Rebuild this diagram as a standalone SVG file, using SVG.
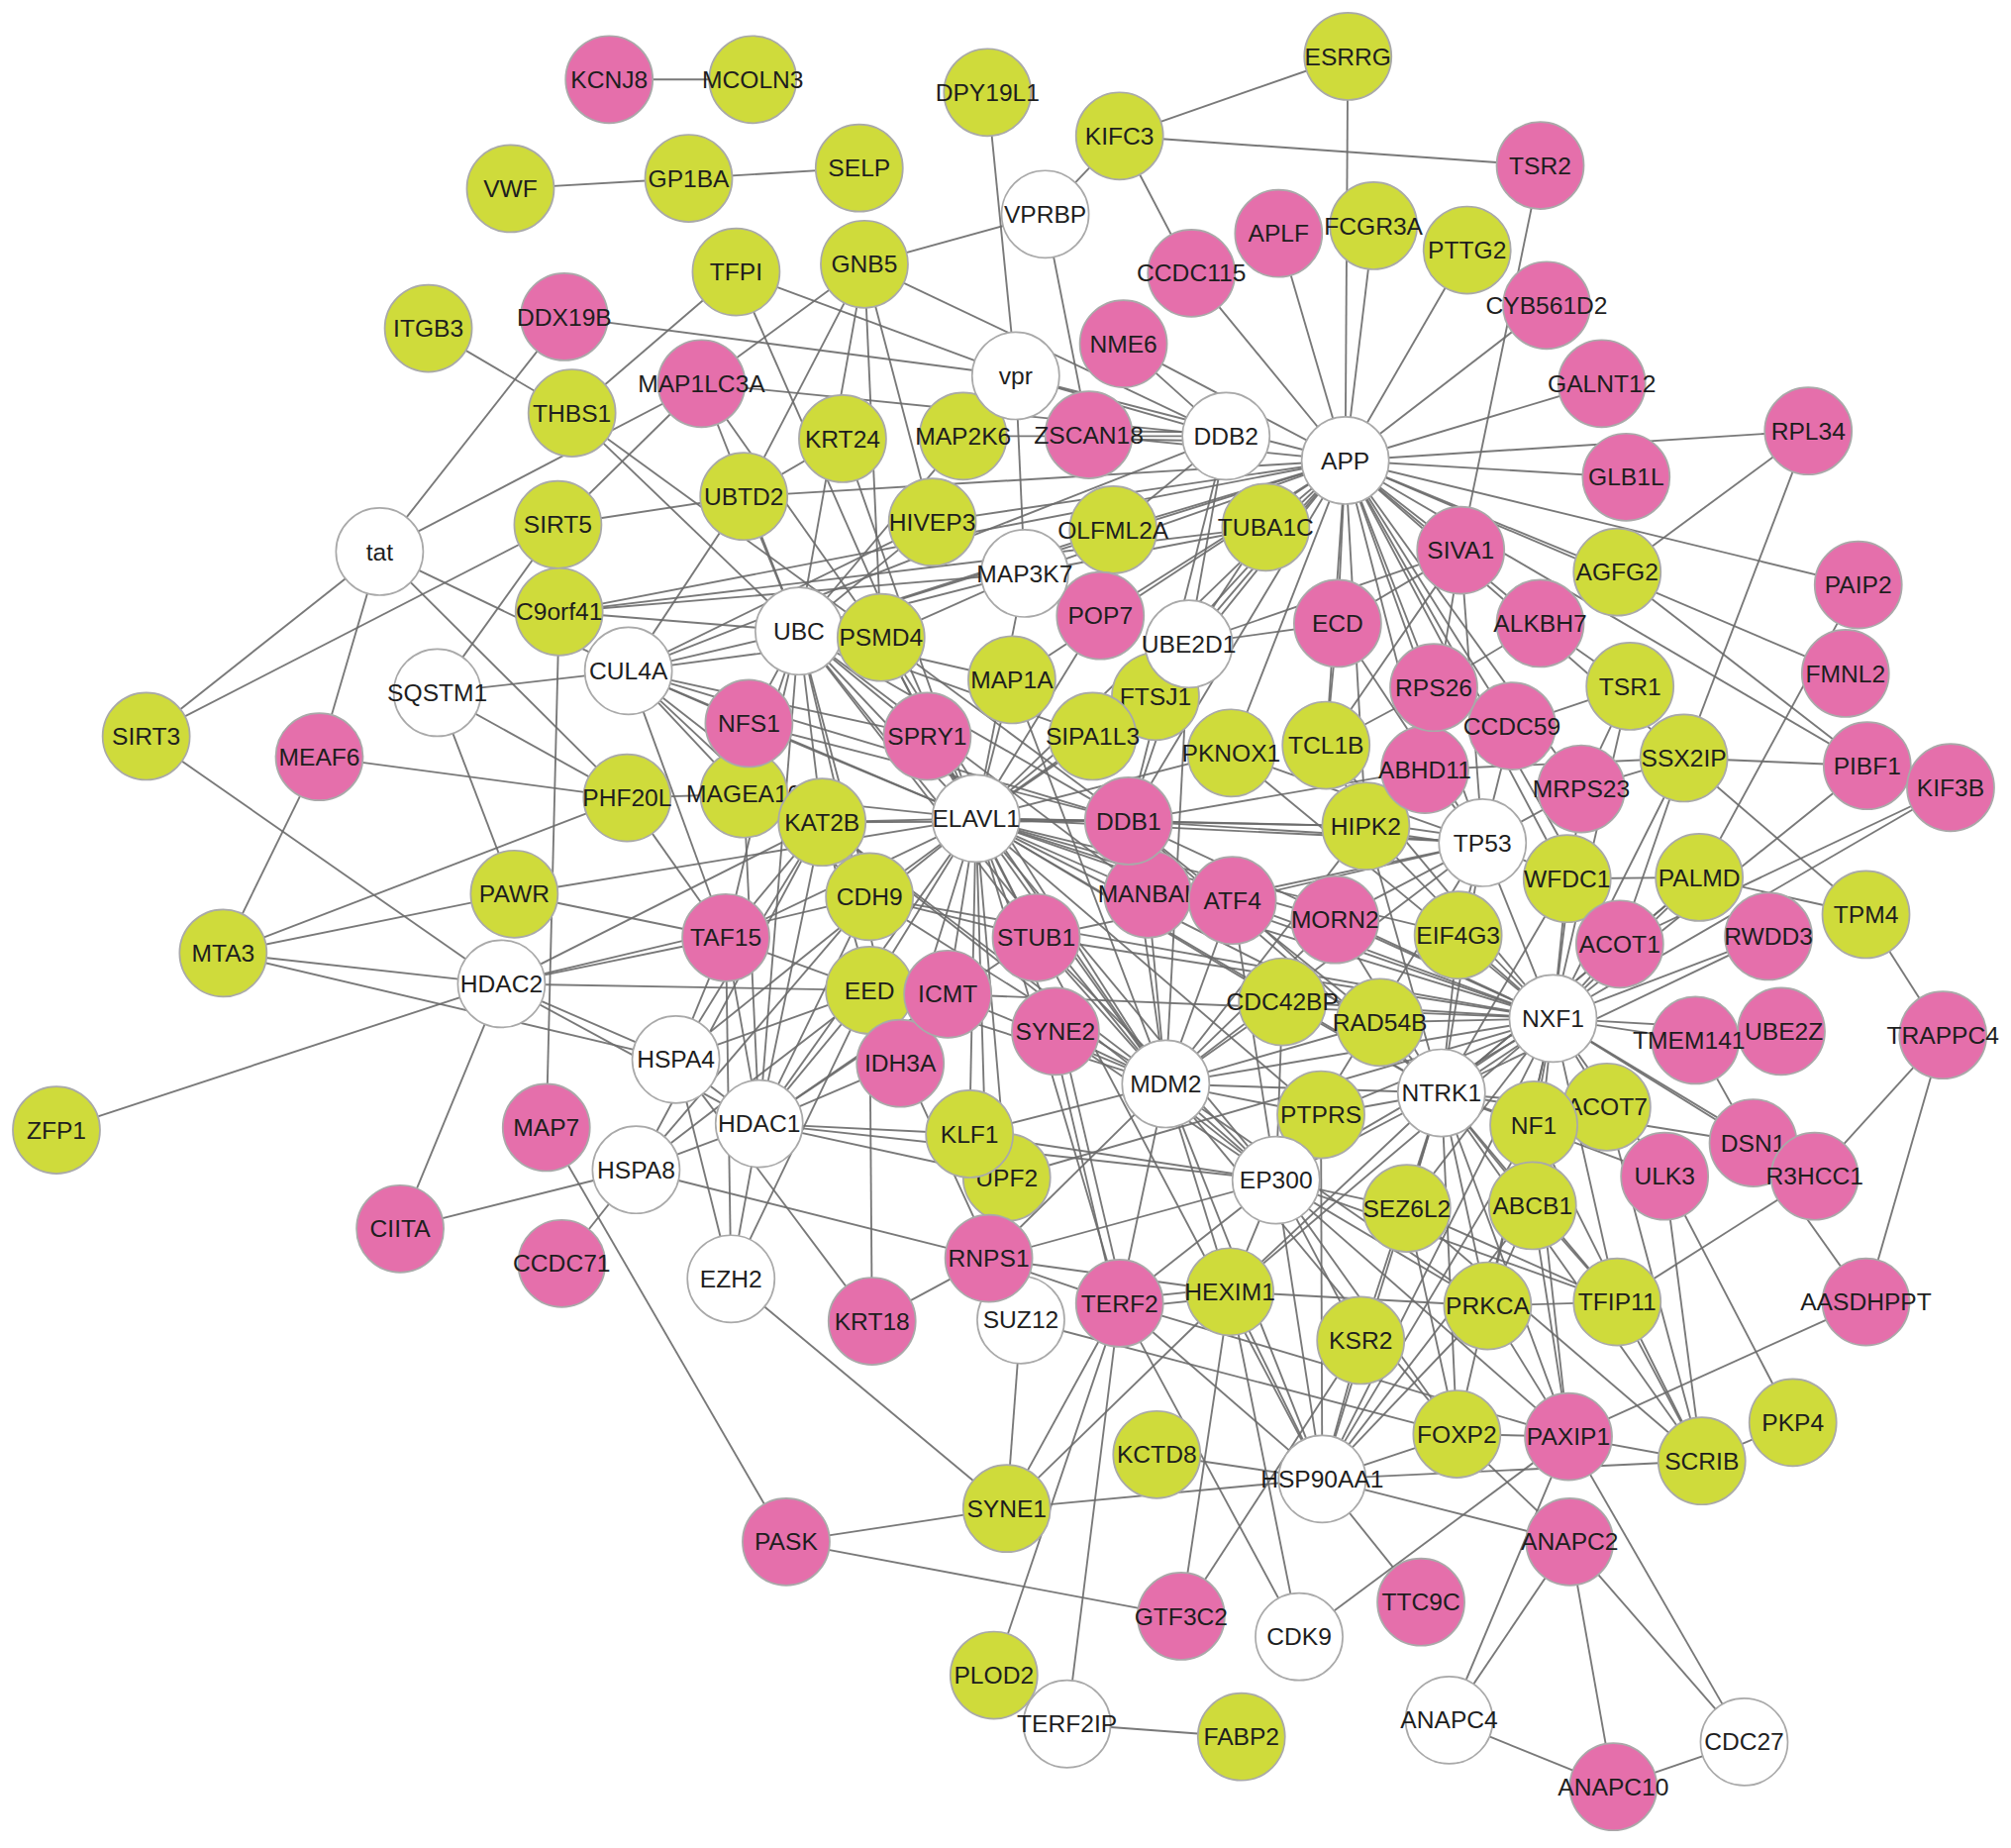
<svg xmlns="http://www.w3.org/2000/svg" width="2031" height="1866" viewBox="0 0 2031 1866">
<style>
.e line{stroke:#6a6a6a;stroke-width:1.45;stroke-opacity:0.9}
circle{stroke:#a9a9a9;stroke-width:1.3}
.g circle{fill:#cfdb3b}
.p circle{fill:#e56fab}
.w circle{fill:#ffffff}
text{font-family:"Liberation Sans",Arial,sans-serif;font-size:19px;fill:#1e1e1e;text-anchor:middle}
</style>
<rect width="2031" height="1866" fill="#ffffff"/>
<g transform="scale(1.2952)">
<g id="connectors" class="e">
<line x1="475" y1="62" x2="587" y2="62"/>
<line x1="398" y1="147" x2="537" y2="139"/>
<line x1="537" y1="139" x2="670" y2="131"/>
<line x1="334" y1="256" x2="446" y2="322"/>
<line x1="440" y1="247" x2="792" y2="293"/>
<line x1="440" y1="247" x2="296" y2="430"/>
<line x1="547" y1="299" x2="296" y2="430"/>
<line x1="446" y1="322" x2="574" y2="212"/>
<line x1="446" y1="322" x2="687" y2="497"/>
<line x1="446" y1="322" x2="623" y2="492"/>
<line x1="435" y1="409" x2="547" y2="299"/>
<line x1="435" y1="409" x2="580" y2="387"/>
<line x1="114" y1="574" x2="296" y2="430"/>
<line x1="114" y1="574" x2="435" y2="409"/>
<line x1="114" y1="574" x2="391" y2="767"/>
<line x1="249" y1="590" x2="296" y2="430"/>
<line x1="174" y1="743" x2="249" y2="590"/>
<line x1="296" y1="430" x2="489" y2="622"/>
<line x1="296" y1="430" x2="490" y2="523"/>
<line x1="341" y1="540" x2="435" y2="409"/>
<line x1="341" y1="540" x2="490" y2="523"/>
<line x1="341" y1="540" x2="401" y2="697"/>
<line x1="341" y1="540" x2="489" y2="622"/>
<line x1="436" y1="477" x2="426" y2="879"/>
<line x1="436" y1="477" x2="799" y2="447"/>
<line x1="436" y1="477" x2="623" y2="492"/>
<line x1="436" y1="477" x2="987" y2="411"/>
<line x1="436" y1="477" x2="1049" y2="359"/>
<line x1="249" y1="590" x2="489" y2="622"/>
<line x1="489" y1="622" x2="174" y2="743"/>
<line x1="174" y1="743" x2="401" y2="697"/>
<line x1="174" y1="743" x2="391" y2="767"/>
<line x1="174" y1="743" x2="527" y2="826"/>
<line x1="391" y1="767" x2="44" y2="881"/>
<line x1="391" y1="767" x2="312" y2="958"/>
<line x1="391" y1="767" x2="527" y2="826"/>
<line x1="391" y1="767" x2="678" y2="772"/>
<line x1="391" y1="767" x2="566" y2="731"/>
<line x1="391" y1="767" x2="678" y2="699"/>
<line x1="401" y1="697" x2="566" y2="731"/>
<line x1="401" y1="697" x2="761" y2="638"/>
<line x1="489" y1="622" x2="566" y2="731"/>
<line x1="489" y1="622" x2="580" y2="619"/>
<line x1="312" y1="958" x2="496" y2="912"/>
<line x1="426" y1="879" x2="613" y2="1202"/>
<line x1="438" y1="985" x2="496" y2="912"/>
<line x1="496" y1="912" x2="592" y2="876"/>
<line x1="496" y1="912" x2="771" y2="981"/>
<line x1="496" y1="912" x2="678" y2="772"/>
<line x1="496" y1="912" x2="678" y2="699"/>
<line x1="496" y1="912" x2="641" y2="641"/>
<line x1="527" y1="826" x2="592" y2="876"/>
<line x1="527" y1="826" x2="641" y2="641"/>
<line x1="527" y1="826" x2="678" y2="772"/>
<line x1="570" y1="997" x2="592" y2="876"/>
<line x1="570" y1="997" x2="678" y2="772"/>
<line x1="570" y1="997" x2="566" y2="731"/>
<line x1="570" y1="997" x2="527" y2="826"/>
<line x1="570" y1="997" x2="785" y2="1176"/>
<line x1="680" y1="1030" x2="771" y2="981"/>
<line x1="680" y1="1030" x2="678" y2="772"/>
<line x1="680" y1="1030" x2="527" y2="826"/>
<line x1="771" y1="981" x2="873" y2="1016"/>
<line x1="771" y1="981" x2="909" y2="845"/>
<line x1="771" y1="981" x2="995" y2="920"/>
<line x1="771" y1="981" x2="761" y2="638"/>
<line x1="771" y1="981" x2="959" y2="1007"/>
<line x1="796" y1="1029" x2="785" y2="1176"/>
<line x1="796" y1="1029" x2="1136" y2="1118"/>
<line x1="796" y1="1029" x2="678" y2="772"/>
<line x1="592" y1="876" x2="756" y2="884"/>
<line x1="873" y1="1013" x2="959" y2="1004"/>
<line x1="873" y1="1020" x2="959" y2="1011"/>
<line x1="873" y1="1016" x2="785" y2="1176"/>
<line x1="873" y1="1016" x2="775" y2="1306"/>
<line x1="873" y1="1016" x2="832" y2="1344"/>
<line x1="873" y1="1016" x2="1031" y2="1153"/>
<line x1="873" y1="1016" x2="1013" y2="1276"/>
<line x1="873" y1="1016" x2="1223" y2="1120"/>
<line x1="959" y1="1007" x2="785" y2="1176"/>
<line x1="959" y1="1007" x2="921" y2="1260"/>
<line x1="959" y1="1007" x2="1013" y2="1276"/>
<line x1="959" y1="1007" x2="1031" y2="1153"/>
<line x1="959" y1="1007" x2="1160" y2="1018"/>
<line x1="902" y1="1134" x2="1031" y2="1153"/>
<line x1="613" y1="1202" x2="785" y2="1176"/>
<line x1="613" y1="1202" x2="921" y2="1260"/>
<line x1="785" y1="1176" x2="1031" y2="1153"/>
<line x1="832" y1="1344" x2="968" y2="1354"/>
<line x1="921" y1="1260" x2="1061" y2="1045"/>
<line x1="1013" y1="1276" x2="1223" y2="1120"/>
<line x1="1031" y1="1153" x2="1108" y2="1249"/>
<line x1="1031" y1="1153" x2="1224" y2="1202"/>
<line x1="1031" y1="1153" x2="1327" y2="1139"/>
<line x1="1031" y1="1153" x2="1136" y2="1118"/>
<line x1="1031" y1="1153" x2="1061" y2="1045"/>
<line x1="1031" y1="1153" x2="1160" y2="1018"/>
<line x1="1031" y1="1153" x2="1124" y2="852"/>
<line x1="1031" y1="1153" x2="1196" y2="877"/>
<line x1="1031" y1="1153" x2="995" y2="920"/>
<line x1="1031" y1="1153" x2="1195" y2="940"/>
<line x1="1031" y1="1153" x2="1211" y2="794"/>
<line x1="1136" y1="1118" x2="1223" y2="1120"/>
<line x1="1136" y1="1118" x2="1224" y2="1202"/>
<line x1="1223" y1="1120" x2="1327" y2="1139"/>
<line x1="1223" y1="1120" x2="1455" y2="1015"/>
<line x1="1223" y1="1120" x2="1360" y2="1358"/>
<line x1="1224" y1="1202" x2="1130" y2="1341"/>
<line x1="1223" y1="1120" x2="1130" y2="1341"/>
<line x1="1224" y1="1202" x2="1258" y2="1393"/>
<line x1="1224" y1="1202" x2="1360" y2="1358"/>
<line x1="1130" y1="1341" x2="1258" y2="1393"/>
<line x1="1258" y1="1393" x2="1360" y2="1358"/>
<line x1="1327" y1="1139" x2="1398" y2="1109"/>
<line x1="1327" y1="1139" x2="1261" y2="1015"/>
<line x1="1298" y1="917" x2="1398" y2="1109"/>
<line x1="1298" y1="917" x2="1327" y2="1139"/>
<line x1="1261" y1="1015" x2="1160" y2="1018"/>
<line x1="1455" y1="1015" x2="1515" y2="807"/>
<line x1="1455" y1="1015" x2="1367" y2="891"/>
<line x1="1261" y1="1015" x2="1415" y2="917"/>
<line x1="1515" y1="807" x2="1415" y2="917"/>
<line x1="1515" y1="807" x2="1455" y2="713"/>
<line x1="1313" y1="591" x2="1455" y2="713"/>
<line x1="1521" y1="614" x2="1263" y2="736"/>
<line x1="1521" y1="614" x2="1211" y2="794"/>
<line x1="1456" y1="597" x2="1313" y2="591"/>
<line x1="1456" y1="597" x2="1049" y2="359"/>
<line x1="1456" y1="597" x2="1211" y2="794"/>
<line x1="1439" y1="525" x2="1049" y2="359"/>
<line x1="1410" y1="336" x2="1313" y2="591"/>
<line x1="1410" y1="336" x2="1261" y2="446"/>
<line x1="1410" y1="336" x2="1049" y2="359"/>
<line x1="1449" y1="456" x2="1049" y2="359"/>
<line x1="1449" y1="456" x2="1325" y2="684"/>
<line x1="1261" y1="446" x2="1049" y2="359"/>
<line x1="1261" y1="446" x2="1456" y2="597"/>
<line x1="1051" y1="44" x2="1049" y2="359"/>
<line x1="1051" y1="44" x2="873" y2="106"/>
<line x1="873" y1="106" x2="1201" y2="129"/>
<line x1="873" y1="106" x2="815" y2="167"/>
<line x1="873" y1="106" x2="929" y2="213"/>
<line x1="929" y1="213" x2="1049" y2="359"/>
<line x1="1201" y1="129" x2="1139" y2="429"/>
<line x1="1206" y1="238" x2="1049" y2="359"/>
<line x1="1249" y1="299" x2="1049" y2="359"/>
<line x1="1268" y1="372" x2="1049" y2="359"/>
<line x1="1144" y1="195" x2="1049" y2="359"/>
<line x1="1071" y1="176" x2="1049" y2="359"/>
<line x1="997" y1="182" x2="1049" y2="359"/>
<line x1="770" y1="72" x2="792" y2="293"/>
<line x1="815" y1="167" x2="674" y2="206"/>
<line x1="815" y1="167" x2="849" y2="339"/>
<line x1="574" y1="212" x2="792" y2="293"/>
<line x1="574" y1="212" x2="761" y2="638"/>
<line x1="674" y1="206" x2="547" y2="299"/>
<line x1="674" y1="206" x2="580" y2="387"/>
<line x1="674" y1="206" x2="687" y2="497"/>
<line x1="674" y1="206" x2="727" y2="407"/>
<line x1="674" y1="206" x2="956" y2="340"/>
<line x1="674" y1="206" x2="623" y2="492"/>
<line x1="547" y1="299" x2="956" y2="340"/>
<line x1="547" y1="299" x2="623" y2="492"/>
<line x1="547" y1="299" x2="687" y2="497"/>
<line x1="876" y1="268" x2="956" y2="340"/>
<line x1="876" y1="268" x2="1049" y2="359"/>
<line x1="792" y1="293" x2="956" y2="340"/>
<line x1="792" y1="293" x2="1049" y2="359"/>
<line x1="792" y1="293" x2="799" y2="447"/>
<line x1="849" y1="336" x2="956" y2="337"/>
<line x1="849" y1="342" x2="956" y2="344"/>
<line x1="849" y1="339" x2="1049" y2="359"/>
<line x1="751" y1="340" x2="956" y2="340"/>
<line x1="751" y1="340" x2="623" y2="492"/>
<line x1="657" y1="342" x2="580" y2="387"/>
<line x1="657" y1="342" x2="761" y2="638"/>
<line x1="580" y1="387" x2="1049" y2="359"/>
<line x1="580" y1="387" x2="623" y2="492"/>
<line x1="580" y1="387" x2="490" y2="523"/>
<line x1="727" y1="407" x2="1049" y2="359"/>
<line x1="727" y1="407" x2="623" y2="492"/>
<line x1="727" y1="407" x2="490" y2="523"/>
<line x1="868" y1="413" x2="1049" y2="359"/>
<line x1="868" y1="413" x2="956" y2="340"/>
<line x1="868" y1="413" x2="623" y2="492"/>
<line x1="987" y1="411" x2="1049" y2="359"/>
<line x1="987" y1="411" x2="927" y2="502"/>
<line x1="987" y1="411" x2="799" y2="447"/>
<line x1="799" y1="447" x2="1049" y2="359"/>
<line x1="799" y1="447" x2="623" y2="492"/>
<line x1="799" y1="447" x2="761" y2="638"/>
<line x1="799" y1="447" x2="687" y2="497"/>
<line x1="858" y1="480" x2="1049" y2="359"/>
<line x1="858" y1="480" x2="761" y2="638"/>
<line x1="927" y1="502" x2="1049" y2="359"/>
<line x1="927" y1="502" x2="956" y2="340"/>
<line x1="927" y1="502" x2="761" y2="638"/>
<line x1="927" y1="502" x2="880" y2="640"/>
<line x1="927" y1="502" x2="909" y2="845"/>
<line x1="1043" y1="486" x2="1049" y2="359"/>
<line x1="1043" y1="486" x2="1034" y2="581"/>
<line x1="1043" y1="486" x2="1139" y2="429"/>
<line x1="1043" y1="486" x2="1156" y2="657"/>
<line x1="1043" y1="486" x2="927" y2="502"/>
<line x1="1139" y1="429" x2="1049" y2="359"/>
<line x1="1139" y1="429" x2="1034" y2="581"/>
<line x1="1139" y1="429" x2="1156" y2="657"/>
<line x1="1139" y1="429" x2="1111" y2="600"/>
<line x1="1139" y1="429" x2="927" y2="502"/>
<line x1="1201" y1="486" x2="1049" y2="359"/>
<line x1="1201" y1="486" x2="1118" y2="536"/>
<line x1="1201" y1="486" x2="1271" y2="535"/>
<line x1="1118" y1="536" x2="1049" y2="359"/>
<line x1="1118" y1="536" x2="1034" y2="581"/>
<line x1="1179" y1="566" x2="1049" y2="359"/>
<line x1="1179" y1="566" x2="1156" y2="657"/>
<line x1="1179" y1="566" x2="1271" y2="535"/>
<line x1="1111" y1="600" x2="1049" y2="359"/>
<line x1="1111" y1="600" x2="1156" y2="657"/>
<line x1="1111" y1="600" x2="1065" y2="644"/>
<line x1="1111" y1="600" x2="1313" y2="591"/>
<line x1="1111" y1="600" x2="880" y2="640"/>
<line x1="1271" y1="535" x2="1233" y2="615"/>
<line x1="1271" y1="535" x2="1211" y2="794"/>
<line x1="1233" y1="615" x2="1049" y2="359"/>
<line x1="1233" y1="615" x2="1156" y2="657"/>
<line x1="1233" y1="615" x2="1313" y2="591"/>
<line x1="1233" y1="615" x2="1211" y2="794"/>
<line x1="1313" y1="591" x2="1049" y2="359"/>
<line x1="1313" y1="591" x2="1211" y2="794"/>
<line x1="1313" y1="591" x2="1263" y2="736"/>
<line x1="1065" y1="641" x2="1156" y2="654"/>
<line x1="1065" y1="647" x2="1156" y2="660"/>
<line x1="1065" y1="644" x2="1049" y2="359"/>
<line x1="1065" y1="644" x2="880" y2="640"/>
<line x1="1065" y1="644" x2="1034" y2="581"/>
<line x1="1065" y1="644" x2="1211" y2="794"/>
<line x1="1065" y1="644" x2="761" y2="638"/>
<line x1="1065" y1="644" x2="909" y2="845"/>
<line x1="1065" y1="644" x2="1124" y2="852"/>
<line x1="1156" y1="657" x2="1049" y2="359"/>
<line x1="1156" y1="657" x2="1222" y2="685"/>
<line x1="1156" y1="657" x2="1211" y2="794"/>
<line x1="1156" y1="657" x2="1124" y2="852"/>
<line x1="1156" y1="657" x2="1137" y2="729"/>
<line x1="1156" y1="657" x2="880" y2="640"/>
<line x1="1156" y1="657" x2="961" y2="702"/>
<line x1="1156" y1="657" x2="909" y2="845"/>
<line x1="1156" y1="657" x2="995" y2="920"/>
<line x1="1156" y1="657" x2="761" y2="638"/>
<line x1="1156" y1="657" x2="1041" y2="717"/>
<line x1="1222" y1="685" x2="1325" y2="684"/>
<line x1="1222" y1="685" x2="1211" y2="794"/>
<line x1="1222" y1="685" x2="1124" y2="852"/>
<line x1="1222" y1="685" x2="1049" y2="359"/>
<line x1="1325" y1="684" x2="1211" y2="794"/>
<line x1="1325" y1="684" x2="1263" y2="736"/>
<line x1="1325" y1="684" x2="1455" y2="713"/>
<line x1="1325" y1="684" x2="1124" y2="852"/>
<line x1="1263" y1="736" x2="1211" y2="794"/>
<line x1="1263" y1="736" x2="1049" y2="359"/>
<line x1="1263" y1="736" x2="1124" y2="852"/>
<line x1="1379" y1="730" x2="1211" y2="794"/>
<line x1="1379" y1="730" x2="1124" y2="852"/>
<line x1="1322" y1="811" x2="1211" y2="794"/>
<line x1="1322" y1="811" x2="1367" y2="891"/>
<line x1="1389" y1="804" x2="1211" y2="794"/>
<line x1="1367" y1="891" x2="1211" y2="794"/>
<line x1="1367" y1="891" x2="1124" y2="852"/>
<line x1="1415" y1="917" x2="1211" y2="794"/>
<line x1="1298" y1="917" x2="1211" y2="794"/>
<line x1="1298" y1="917" x2="1124" y2="852"/>
<line x1="1253" y1="863" x2="1211" y2="794"/>
<line x1="1253" y1="863" x2="1124" y2="852"/>
<line x1="1253" y1="863" x2="1327" y2="1139"/>
<line x1="1196" y1="877" x2="1211" y2="794"/>
<line x1="1196" y1="877" x2="1124" y2="852"/>
<line x1="1196" y1="877" x2="1223" y2="1120"/>
<line x1="1196" y1="877" x2="1327" y2="1139"/>
<line x1="1195" y1="940" x2="1124" y2="852"/>
<line x1="1195" y1="940" x2="1211" y2="794"/>
<line x1="1195" y1="940" x2="1223" y2="1120"/>
<line x1="1195" y1="940" x2="1261" y2="1015"/>
<line x1="1195" y1="940" x2="1160" y2="1018"/>
<line x1="1097" y1="942" x2="1124" y2="852"/>
<line x1="1097" y1="942" x2="1211" y2="794"/>
<line x1="1097" y1="942" x2="995" y2="920"/>
<line x1="1097" y1="942" x2="1327" y2="1139"/>
<line x1="1097" y1="942" x2="1261" y2="1015"/>
<line x1="1097" y1="942" x2="1136" y2="1118"/>
<line x1="1160" y1="1018" x2="1124" y2="852"/>
<line x1="1160" y1="1018" x2="1211" y2="794"/>
<line x1="1160" y1="1018" x2="995" y2="920"/>
<line x1="1160" y1="1018" x2="1223" y2="1120"/>
<line x1="1160" y1="1018" x2="909" y2="845"/>
<line x1="1261" y1="1015" x2="1124" y2="852"/>
<line x1="1261" y1="1015" x2="1211" y2="794"/>
<line x1="1261" y1="1015" x2="995" y2="920"/>
<line x1="1061" y1="1045" x2="1124" y2="852"/>
<line x1="1061" y1="1045" x2="995" y2="920"/>
<line x1="1136" y1="1118" x2="1124" y2="852"/>
<line x1="1136" y1="1118" x2="1211" y2="794"/>
<line x1="1136" y1="1118" x2="995" y2="920"/>
<line x1="1136" y1="1118" x2="909" y2="845"/>
<line x1="1030" y1="869" x2="1124" y2="852"/>
<line x1="1030" y1="869" x2="995" y2="920"/>
<line x1="1030" y1="869" x2="909" y2="845"/>
<line x1="1030" y1="869" x2="1211" y2="794"/>
<line x1="1030" y1="869" x2="761" y2="638"/>
<line x1="1030" y1="869" x2="1031" y2="1153"/>
<line x1="1076" y1="797" x2="1211" y2="794"/>
<line x1="1076" y1="797" x2="1124" y2="852"/>
<line x1="1076" y1="797" x2="909" y2="845"/>
<line x1="1076" y1="797" x2="761" y2="638"/>
<line x1="1076" y1="797" x2="880" y2="640"/>
<line x1="1000" y1="781" x2="1211" y2="794"/>
<line x1="1000" y1="781" x2="909" y2="845"/>
<line x1="1000" y1="781" x2="761" y2="638"/>
<line x1="1000" y1="781" x2="1124" y2="852"/>
<line x1="1000" y1="781" x2="995" y2="920"/>
<line x1="1137" y1="729" x2="1211" y2="794"/>
<line x1="1137" y1="729" x2="1124" y2="852"/>
<line x1="1137" y1="729" x2="761" y2="638"/>
<line x1="1041" y1="717" x2="1211" y2="794"/>
<line x1="1041" y1="717" x2="1124" y2="852"/>
<line x1="1041" y1="717" x2="761" y2="638"/>
<line x1="1041" y1="717" x2="909" y2="845"/>
<line x1="961" y1="702" x2="1211" y2="794"/>
<line x1="961" y1="702" x2="909" y2="845"/>
<line x1="961" y1="702" x2="761" y2="638"/>
<line x1="961" y1="702" x2="995" y2="920"/>
<line x1="961" y1="702" x2="1124" y2="852"/>
<line x1="895" y1="697" x2="761" y2="638"/>
<line x1="895" y1="697" x2="909" y2="845"/>
<line x1="895" y1="697" x2="623" y2="492"/>
<line x1="895" y1="697" x2="1211" y2="794"/>
<line x1="880" y1="640" x2="761" y2="638"/>
<line x1="880" y1="640" x2="623" y2="492"/>
<line x1="880" y1="640" x2="490" y2="523"/>
<line x1="880" y1="640" x2="956" y2="340"/>
<line x1="880" y1="640" x2="1211" y2="794"/>
<line x1="880" y1="640" x2="909" y2="845"/>
<line x1="880" y1="640" x2="1049" y2="359"/>
<line x1="880" y1="640" x2="1124" y2="852"/>
<line x1="960" y1="587" x2="1049" y2="359"/>
<line x1="960" y1="587" x2="761" y2="638"/>
<line x1="960" y1="587" x2="1211" y2="794"/>
<line x1="960" y1="587" x2="1156" y2="657"/>
<line x1="1034" y1="581" x2="1049" y2="359"/>
<line x1="1034" y1="581" x2="1211" y2="794"/>
<line x1="901" y1="543" x2="1049" y2="359"/>
<line x1="901" y1="543" x2="761" y2="638"/>
<line x1="852" y1="574" x2="1049" y2="359"/>
<line x1="852" y1="574" x2="761" y2="638"/>
<line x1="852" y1="574" x2="623" y2="492"/>
<line x1="789" y1="530" x2="761" y2="638"/>
<line x1="789" y1="530" x2="623" y2="492"/>
<line x1="789" y1="530" x2="1049" y2="359"/>
<line x1="789" y1="530" x2="909" y2="845"/>
<line x1="723" y1="574" x2="623" y2="492"/>
<line x1="723" y1="574" x2="761" y2="638"/>
<line x1="723" y1="574" x2="490" y2="523"/>
<line x1="723" y1="574" x2="909" y2="845"/>
<line x1="687" y1="497" x2="623" y2="492"/>
<line x1="687" y1="497" x2="761" y2="638"/>
<line x1="687" y1="497" x2="808" y2="731"/>
<line x1="687" y1="497" x2="909" y2="845"/>
<line x1="687" y1="497" x2="490" y2="523"/>
<line x1="687" y1="497" x2="880" y2="640"/>
<line x1="584" y1="564" x2="623" y2="492"/>
<line x1="584" y1="564" x2="490" y2="523"/>
<line x1="584" y1="564" x2="761" y2="638"/>
<line x1="584" y1="564" x2="880" y2="640"/>
<line x1="580" y1="619" x2="623" y2="492"/>
<line x1="580" y1="619" x2="761" y2="638"/>
<line x1="580" y1="619" x2="592" y2="876"/>
<line x1="580" y1="619" x2="490" y2="523"/>
<line x1="641" y1="641" x2="761" y2="638"/>
<line x1="641" y1="641" x2="623" y2="492"/>
<line x1="641" y1="641" x2="592" y2="876"/>
<line x1="641" y1="641" x2="678" y2="772"/>
<line x1="641" y1="641" x2="566" y2="731"/>
<line x1="641" y1="641" x2="490" y2="523"/>
<line x1="641" y1="641" x2="995" y2="920"/>
<line x1="641" y1="641" x2="909" y2="845"/>
<line x1="641" y1="641" x2="391" y2="767"/>
<line x1="641" y1="641" x2="880" y2="640"/>
<line x1="678" y1="699" x2="761" y2="638"/>
<line x1="678" y1="699" x2="623" y2="492"/>
<line x1="678" y1="699" x2="592" y2="876"/>
<line x1="678" y1="699" x2="808" y2="731"/>
<line x1="678" y1="699" x2="909" y2="845"/>
<line x1="678" y1="699" x2="490" y2="523"/>
<line x1="678" y1="699" x2="1211" y2="794"/>
<line x1="566" y1="731" x2="761" y2="638"/>
<line x1="566" y1="731" x2="623" y2="492"/>
<line x1="566" y1="731" x2="592" y2="876"/>
<line x1="566" y1="731" x2="490" y2="523"/>
<line x1="566" y1="731" x2="527" y2="826"/>
<line x1="566" y1="731" x2="678" y2="772"/>
<line x1="808" y1="731" x2="761" y2="638"/>
<line x1="808" y1="731" x2="623" y2="492"/>
<line x1="808" y1="731" x2="909" y2="845"/>
<line x1="808" y1="731" x2="1211" y2="794"/>
<line x1="808" y1="731" x2="995" y2="920"/>
<line x1="808" y1="731" x2="592" y2="876"/>
<line x1="808" y1="731" x2="1156" y2="657"/>
<line x1="808" y1="731" x2="1031" y2="1153"/>
<line x1="678" y1="772" x2="592" y2="876"/>
<line x1="678" y1="772" x2="761" y2="638"/>
<line x1="678" y1="772" x2="909" y2="845"/>
<line x1="739" y1="775" x2="761" y2="638"/>
<line x1="739" y1="775" x2="592" y2="876"/>
<line x1="739" y1="775" x2="1211" y2="794"/>
<line x1="739" y1="775" x2="909" y2="845"/>
<line x1="823" y1="804" x2="761" y2="638"/>
<line x1="823" y1="804" x2="909" y2="845"/>
<line x1="820" y1="804" x2="870" y2="1016"/>
<line x1="827" y1="804" x2="877" y2="1016"/>
<line x1="823" y1="804" x2="995" y2="920"/>
<line x1="702" y1="829" x2="761" y2="638"/>
<line x1="702" y1="829" x2="592" y2="876"/>
<line x1="702" y1="829" x2="623" y2="492"/>
<line x1="756" y1="884" x2="761" y2="638"/>
<line x1="756" y1="884" x2="995" y2="920"/>
<line x1="756" y1="884" x2="909" y2="845"/>
<line x1="785" y1="918" x2="761" y2="638"/>
<line x1="785" y1="918" x2="592" y2="876"/>
<line x1="785" y1="918" x2="771" y2="981"/>
<line x1="785" y1="918" x2="1211" y2="794"/>
<line x1="909" y1="845" x2="995" y2="920"/>
<line x1="909" y1="845" x2="1124" y2="852"/>
<line x1="909" y1="845" x2="1211" y2="794"/>
<line x1="909" y1="845" x2="761" y2="638"/>
<line x1="909" y1="845" x2="1031" y2="1153"/>
<line x1="909" y1="845" x2="873" y2="1016"/>
<line x1="909" y1="845" x2="959" y2="1007"/>
<line x1="995" y1="920" x2="1124" y2="852"/>
<line x1="995" y1="920" x2="1211" y2="794"/>
<line x1="995" y1="920" x2="959" y2="1007"/>
<line x1="995" y1="920" x2="873" y2="1016"/>
<line x1="995" y1="920" x2="761" y2="638"/>
<line x1="995" y1="920" x2="592" y2="876"/>
<line x1="1124" y1="849" x2="1211" y2="791"/>
<line x1="1124" y1="855" x2="1211" y2="797"/>
<line x1="592" y1="876" x2="761" y2="638"/>
<line x1="592" y1="876" x2="391" y2="767"/>
<line x1="592" y1="876" x2="623" y2="492"/>
<line x1="490" y1="523" x2="623" y2="492"/>
<line x1="490" y1="523" x2="761" y2="638"/>
<line x1="490" y1="523" x2="956" y2="340"/>
<line x1="623" y1="492" x2="761" y2="638"/>
<line x1="623" y1="492" x2="909" y2="845"/>
<line x1="623" y1="492" x2="1049" y2="359"/>
<line x1="761" y1="638" x2="1211" y2="794"/>
<line x1="761" y1="638" x2="1124" y2="852"/>
<line x1="761" y1="638" x2="1049" y2="359"/>
<line x1="959" y1="1007" x2="1124" y2="852"/>
<line x1="959" y1="1007" x2="1211" y2="794"/>
<line x1="1124" y1="852" x2="1327" y2="1139"/>
<line x1="1124" y1="852" x2="1223" y2="1120"/>
<line x1="995" y1="920" x2="1223" y2="1120"/>
<line x1="761" y1="638" x2="873" y2="1016"/>
<line x1="761" y1="638" x2="527" y2="826"/>
</g>
<g id="nodes">
<g id="node-KCNJ8" class="p"><circle cx="475" cy="62" r="34"/><text x="475" y="62" dy="0.35em">KCNJ8</text></g>
<g id="node-MCOLN3" class="g"><circle cx="587" cy="62" r="34"/><text x="587" y="62" dy="0.35em">MCOLN3</text></g>
<g id="node-DPY19L1" class="g"><circle cx="770" cy="72" r="34"/><text x="770" y="72" dy="0.35em">DPY19L1</text></g>
<g id="node-ESRRG" class="g"><circle cx="1051" cy="44" r="34"/><text x="1051" y="44" dy="0.35em">ESRRG</text></g>
<g id="node-KIFC3" class="g"><circle cx="873" cy="106" r="34"/><text x="873" y="106" dy="0.35em">KIFC3</text></g>
<g id="node-TSR2" class="p"><circle cx="1201" cy="129" r="34"/><text x="1201" y="129" dy="0.35em">TSR2</text></g>
<g id="node-VWF" class="g"><circle cx="398" cy="147" r="34"/><text x="398" y="147" dy="0.35em">VWF</text></g>
<g id="node-GP1BA" class="g"><circle cx="537" cy="139" r="34"/><text x="537" y="139" dy="0.35em">GP1BA</text></g>
<g id="node-SELP" class="g"><circle cx="670" cy="131" r="34"/><text x="670" y="131" dy="0.35em">SELP</text></g>
<g id="node-VPRBP" class="w"><circle cx="815" cy="167" r="34"/><text x="815" y="167" dy="0.35em">VPRBP</text></g>
<g id="node-APLF" class="p"><circle cx="997" cy="182" r="34"/><text x="997" y="182" dy="0.35em">APLF</text></g>
<g id="node-FCGR3A" class="g"><circle cx="1071" cy="176" r="34"/><text x="1071" y="176" dy="0.35em">FCGR3A</text></g>
<g id="node-PTTG2" class="g"><circle cx="1144" cy="195" r="34"/><text x="1144" y="195" dy="0.35em">PTTG2</text></g>
<g id="node-CCDC115" class="p"><circle cx="929" cy="213" r="34"/><text x="929" y="213" dy="0.35em">CCDC115</text></g>
<g id="node-CYB561D2" class="p"><circle cx="1206" cy="238" r="34"/><text x="1206" y="238" dy="0.35em">CYB561D2</text></g>
<g id="node-TFPI" class="g"><circle cx="574" cy="212" r="34"/><text x="574" y="212" dy="0.35em">TFPI</text></g>
<g id="node-GNB5" class="g"><circle cx="674" cy="206" r="34"/><text x="674" y="206" dy="0.35em">GNB5</text></g>
<g id="node-ITGB3" class="g"><circle cx="334" cy="256" r="34"/><text x="334" y="256" dy="0.35em">ITGB3</text></g>
<g id="node-DDX19B" class="p"><circle cx="440" cy="247" r="34"/><text x="440" y="247" dy="0.35em">DDX19B</text></g>
<g id="node-NME6" class="p"><circle cx="876" cy="268" r="34"/><text x="876" y="268" dy="0.35em">NME6</text></g>
<g id="node-GALNT12" class="p"><circle cx="1249" cy="299" r="34"/><text x="1249" y="299" dy="0.35em">GALNT12</text></g>
<g id="node-MAP1LC3A" class="p"><circle cx="547" cy="299" r="34"/><text x="547" y="299" dy="0.35em">MAP1LC3A</text></g>
<g id="node-THBS1" class="g"><circle cx="446" cy="322" r="34"/><text x="446" y="322" dy="0.35em">THBS1</text></g>
<g id="node-KRT24" class="g"><circle cx="657" cy="342" r="34"/><text x="657" y="342" dy="0.35em">KRT24</text></g>
<g id="node-MAP2K6" class="g"><circle cx="751" cy="340" r="34"/><text x="751" y="340" dy="0.35em">MAP2K6</text></g>
<g id="node-vpr" class="w"><circle cx="792" cy="293" r="34"/><text x="792" y="293" dy="0.35em">vpr</text></g>
<g id="node-ZSCAN18" class="p"><circle cx="849" cy="339" r="34"/><text x="849" y="339" dy="0.35em">ZSCAN18</text></g>
<g id="node-DDB2" class="w"><circle cx="956" cy="340" r="34"/><text x="956" y="340" dy="0.35em">DDB2</text></g>
<g id="node-APP" class="w"><circle cx="1049" cy="359" r="34"/><text x="1049" y="359" dy="0.35em">APP</text></g>
<g id="node-RPL34" class="p"><circle cx="1410" cy="336" r="34"/><text x="1410" y="336" dy="0.35em">RPL34</text></g>
<g id="node-GLB1L" class="p"><circle cx="1268" cy="372" r="34"/><text x="1268" y="372" dy="0.35em">GLB1L</text></g>
<g id="node-tat" class="w"><circle cx="296" cy="430" r="34"/><text x="296" y="430" dy="0.35em">tat</text></g>
<g id="node-SIRT5" class="g"><circle cx="435" cy="409" r="34"/><text x="435" y="409" dy="0.35em">SIRT5</text></g>
<g id="node-UBTD2" class="g"><circle cx="580" cy="387" r="34"/><text x="580" y="387" dy="0.35em">UBTD2</text></g>
<g id="node-HIVEP3" class="g"><circle cx="727" cy="407" r="34"/><text x="727" y="407" dy="0.35em">HIVEP3</text></g>
<g id="node-OLFML2A" class="g"><circle cx="868" cy="413" r="34"/><text x="868" y="413" dy="0.35em">OLFML2A</text></g>
<g id="node-TUBA1C" class="g"><circle cx="987" cy="411" r="34"/><text x="987" y="411" dy="0.35em">TUBA1C</text></g>
<g id="node-SIVA1" class="p"><circle cx="1139" cy="429" r="34"/><text x="1139" y="429" dy="0.35em">SIVA1</text></g>
<g id="node-AGFG2" class="g"><circle cx="1261" cy="446" r="34"/><text x="1261" y="446" dy="0.35em">AGFG2</text></g>
<g id="node-PAIP2" class="p"><circle cx="1449" cy="456" r="34"/><text x="1449" y="456" dy="0.35em">PAIP2</text></g>
<g id="node-POP7" class="p"><circle cx="858" cy="480" r="34"/><text x="858" y="480" dy="0.35em">POP7</text></g>
<g id="node-MAP3K7" class="w"><circle cx="799" cy="447" r="34"/><text x="799" y="447" dy="0.35em">MAP3K7</text></g>
<g id="node-C9orf41" class="g"><circle cx="436" cy="477" r="34"/><text x="436" y="477" dy="0.35em">C9orf41</text></g>
<g id="node-UBC" class="w"><circle cx="623" cy="492" r="34"/><text x="623" y="492" dy="0.35em">UBC</text></g>
<g id="node-PSMD4" class="g"><circle cx="687" cy="497" r="34"/><text x="687" y="497" dy="0.35em">PSMD4</text></g>
<g id="node-FTSJ1" class="g"><circle cx="901" cy="543" r="34"/><text x="901" y="543" dy="0.35em">FTSJ1</text></g>
<g id="node-UBE2D1" class="w"><circle cx="927" cy="502" r="34"/><text x="927" y="502" dy="0.35em">UBE2D1</text></g>
<g id="node-ECD" class="p"><circle cx="1043" cy="486" r="34"/><text x="1043" y="486" dy="0.35em">ECD</text></g>
<g id="node-ALKBH7" class="p"><circle cx="1201" cy="486" r="34"/><text x="1201" y="486" dy="0.35em">ALKBH7</text></g>
<g id="node-CUL4A" class="w"><circle cx="490" cy="523" r="34"/><text x="490" y="523" dy="0.35em">CUL4A</text></g>
<g id="node-SQSTM1" class="w"><circle cx="341" cy="540" r="34"/><text x="341" y="540" dy="0.35em">SQSTM1</text></g>
<g id="node-MAP1A" class="g"><circle cx="789" cy="530" r="34"/><text x="789" y="530" dy="0.35em">MAP1A</text></g>
<g id="node-CCDC59" class="p"><circle cx="1179" cy="566" r="34"/><text x="1179" y="566" dy="0.35em">CCDC59</text></g>
<g id="node-HIPK2" class="g"><circle cx="1065" cy="644" r="34"/><text x="1065" y="644" dy="0.35em">HIPK2</text></g>
<g id="node-ABHD11" class="p"><circle cx="1111" cy="600" r="34"/><text x="1111" y="600" dy="0.35em">ABHD11</text></g>
<g id="node-RPS26" class="p"><circle cx="1118" cy="536" r="34"/><text x="1118" y="536" dy="0.35em">RPS26</text></g>
<g id="node-TSR1" class="g"><circle cx="1271" cy="535" r="34"/><text x="1271" y="535" dy="0.35em">TSR1</text></g>
<g id="node-FMNL2" class="p"><circle cx="1439" cy="525" r="34"/><text x="1439" y="525" dy="0.35em">FMNL2</text></g>
<g id="node-MAGEA10" class="g"><circle cx="580" cy="619" r="34"/><text x="580" y="619" dy="0.35em">MAGEA10</text></g>
<g id="node-NFS1" class="p"><circle cx="584" cy="564" r="34"/><text x="584" y="564" dy="0.35em">NFS1</text></g>
<g id="node-SPRY1" class="p"><circle cx="723" cy="574" r="34"/><text x="723" y="574" dy="0.35em">SPRY1</text></g>
<g id="node-SIPA1L3" class="g"><circle cx="852" cy="574" r="34"/><text x="852" y="574" dy="0.35em">SIPA1L3</text></g>
<g id="node-TCL1B" class="g"><circle cx="1034" cy="581" r="34"/><text x="1034" y="581" dy="0.35em">TCL1B</text></g>
<g id="node-PKNOX1" class="g"><circle cx="960" cy="587" r="34"/><text x="960" y="587" dy="0.35em">PKNOX1</text></g>
<g id="node-SIRT3" class="g"><circle cx="114" cy="574" r="34"/><text x="114" y="574" dy="0.35em">SIRT3</text></g>
<g id="node-MEAF6" class="p"><circle cx="249" cy="590" r="34"/><text x="249" y="590" dy="0.35em">MEAF6</text></g>
<g id="node-MRPS23" class="p"><circle cx="1233" cy="615" r="34"/><text x="1233" y="615" dy="0.35em">MRPS23</text></g>
<g id="node-SSX2IP" class="g"><circle cx="1313" cy="591" r="34"/><text x="1313" y="591" dy="0.35em">SSX2IP</text></g>
<g id="node-PIBF1" class="p"><circle cx="1456" cy="597" r="34"/><text x="1456" y="597" dy="0.35em">PIBF1</text></g>
<g id="node-KIF3B" class="p"><circle cx="1521" cy="614" r="34"/><text x="1521" y="614" dy="0.35em">KIF3B</text></g>
<g id="node-PHF20L" class="g"><circle cx="489" cy="622" r="34"/><text x="489" y="622" dy="0.35em">PHF20L</text></g>
<g id="node-KAT2B" class="g"><circle cx="641" cy="641" r="34"/><text x="641" y="641" dy="0.35em">KAT2B</text></g>
<g id="node-ELAVL1" class="w"><circle cx="761" cy="638" r="34"/><text x="761" y="638" dy="0.35em">ELAVL1</text></g>
<g id="node-MANBAL" class="p"><circle cx="895" cy="697" r="34"/><text x="895" y="697" dy="0.35em">MANBAL</text></g>
<g id="node-DDB1" class="p"><circle cx="880" cy="640" r="34"/><text x="880" y="640" dy="0.35em">DDB1</text></g>
<g id="node-TP53" class="w"><circle cx="1156" cy="657" r="34"/><text x="1156" y="657" dy="0.35em">TP53</text></g>
<g id="node-WFDC1" class="g"><circle cx="1222" cy="685" r="34"/><text x="1222" y="685" dy="0.35em">WFDC1</text></g>
<g id="node-PALMD" class="g"><circle cx="1325" cy="684" r="34"/><text x="1325" y="684" dy="0.35em">PALMD</text></g>
<g id="node-CDH9" class="g"><circle cx="678" cy="699" r="34"/><text x="678" y="699" dy="0.35em">CDH9</text></g>
<g id="node-PAWR" class="g"><circle cx="401" cy="697" r="34"/><text x="401" y="697" dy="0.35em">PAWR</text></g>
<g id="node-ATF4" class="p"><circle cx="961" cy="702" r="34"/><text x="961" y="702" dy="0.35em">ATF4</text></g>
<g id="node-MORN2" class="p"><circle cx="1041" cy="717" r="34"/><text x="1041" y="717" dy="0.35em">MORN2</text></g>
<g id="node-TPM4" class="g"><circle cx="1455" cy="713" r="34"/><text x="1455" y="713" dy="0.35em">TPM4</text></g>
<g id="node-MTA3" class="g"><circle cx="174" cy="743" r="34"/><text x="174" y="743" dy="0.35em">MTA3</text></g>
<g id="node-TAF15" class="p"><circle cx="566" cy="731" r="34"/><text x="566" y="731" dy="0.35em">TAF15</text></g>
<g id="node-STUB1" class="p"><circle cx="808" cy="731" r="34"/><text x="808" y="731" dy="0.35em">STUB1</text></g>
<g id="node-EIF4G3" class="g"><circle cx="1137" cy="729" r="34"/><text x="1137" y="729" dy="0.35em">EIF4G3</text></g>
<g id="node-ACOT1" class="p"><circle cx="1263" cy="736" r="34"/><text x="1263" y="736" dy="0.35em">ACOT1</text></g>
<g id="node-RWDD3" class="p"><circle cx="1379" cy="730" r="34"/><text x="1379" y="730" dy="0.35em">RWDD3</text></g>
<g id="node-HDAC2" class="w"><circle cx="391" cy="767" r="34"/><text x="391" y="767" dy="0.35em">HDAC2</text></g>
<g id="node-EED" class="g"><circle cx="678" cy="772" r="34"/><text x="678" y="772" dy="0.35em">EED</text></g>
<g id="node-IDH3A" class="p"><circle cx="702" cy="829" r="34"/><text x="702" y="829" dy="0.35em">IDH3A</text></g>
<g id="node-ICMT" class="p"><circle cx="739" cy="775" r="34"/><text x="739" y="775" dy="0.35em">ICMT</text></g>
<g id="node-CDC42BP" class="g"><circle cx="1000" cy="781" r="34"/><text x="1000" y="781" dy="0.35em">CDC42BP</text></g>
<g id="node-RAD54B" class="g"><circle cx="1076" cy="797" r="34"/><text x="1076" y="797" dy="0.35em">RAD54B</text></g>
<g id="node-NXF1" class="w"><circle cx="1211" cy="794" r="34"/><text x="1211" y="794" dy="0.35em">NXF1</text></g>
<g id="node-UBE2Z" class="p"><circle cx="1389" cy="804" r="34"/><text x="1391" y="804" dy="0.35em">UBE2Z</text></g>
<g id="node-TMEM141" class="p"><circle cx="1322" cy="811" r="34"/><text x="1317" y="811" dy="0.35em">TMEM141</text></g>
<g id="node-TRAPPC4" class="p"><circle cx="1515" cy="807" r="34"/><text x="1515" y="807" dy="0.35em">TRAPPC4</text></g>
<g id="node-HSPA4" class="w"><circle cx="527" cy="826" r="34"/><text x="527" y="826" dy="0.35em">HSPA4</text></g>
<g id="node-SYNE2" class="p"><circle cx="823" cy="804" r="34"/><text x="823" y="804" dy="0.35em">SYNE2</text></g>
<g id="node-MDM2" class="w"><circle cx="909" cy="845" r="34"/><text x="909" y="845" dy="0.35em">MDM2</text></g>
<g id="node-NTRK1" class="w"><circle cx="1124" cy="852" r="34"/><text x="1124" y="852" dy="0.35em">NTRK1</text></g>
<g id="node-ACOT7" class="g"><circle cx="1253" cy="863" r="34"/><text x="1253" y="863" dy="0.35em">ACOT7</text></g>
<g id="node-NF1" class="g"><circle cx="1196" cy="877" r="34"/><text x="1196" y="877" dy="0.35em">NF1</text></g>
<g id="node-HDAC1" class="w"><circle cx="592" cy="876" r="34"/><text x="592" y="876" dy="0.35em">HDAC1</text></g>
<g id="node-UPF2" class="g"><circle cx="785" cy="918" r="34"/><text x="785" y="918" dy="0.35em">UPF2</text></g>
<g id="node-KLF1" class="g"><circle cx="756" cy="884" r="34"/><text x="756" y="884" dy="0.35em">KLF1</text></g>
<g id="node-PTPRS" class="g"><circle cx="1030" cy="869" r="34"/><text x="1030" y="869" dy="0.35em">PTPRS</text></g>
<g id="node-DSN1" class="p"><circle cx="1367" cy="891" r="34"/><text x="1367" y="891" dy="0.35em">DSN1</text></g>
<g id="node-R3HCC1" class="p"><circle cx="1415" cy="917" r="34"/><text x="1415" y="917" dy="0.35em">R3HCC1</text></g>
<g id="node-ULK3" class="p"><circle cx="1298" cy="917" r="34"/><text x="1298" y="917" dy="0.35em">ULK3</text></g>
<g id="node-ZFP1" class="g"><circle cx="44" cy="881" r="34"/><text x="44" y="881" dy="0.35em">ZFP1</text></g>
<g id="node-MAP7" class="p"><circle cx="426" cy="879" r="34"/><text x="426" y="879" dy="0.35em">MAP7</text></g>
<g id="node-HSPA8" class="w"><circle cx="496" cy="912" r="34"/><text x="496" y="912" dy="0.35em">HSPA8</text></g>
<g id="node-EP300" class="w"><circle cx="995" cy="920" r="34"/><text x="995" y="920" dy="0.35em">EP300</text></g>
<g id="node-SEZ6L2" class="g"><circle cx="1097" cy="942" r="34"/><text x="1097" y="942" dy="0.35em">SEZ6L2</text></g>
<g id="node-ABCB1" class="g"><circle cx="1195" cy="940" r="34"/><text x="1195" y="940" dy="0.35em">ABCB1</text></g>
<g id="node-CIITA" class="p"><circle cx="312" cy="958" r="34"/><text x="312" y="958" dy="0.35em">CIITA</text></g>
<g id="node-CCDC71" class="p"><circle cx="438" cy="985" r="34"/><text x="438" y="985" dy="0.35em">CCDC71</text></g>
<g id="node-EZH2" class="w"><circle cx="570" cy="997" r="34"/><text x="570" y="997" dy="0.35em">EZH2</text></g>
<g id="node-SUZ12" class="w"><circle cx="796" cy="1029" r="34"/><text x="796" y="1029" dy="0.35em">SUZ12</text></g>
<g id="node-RNPS1" class="p"><circle cx="771" cy="981" r="34"/><text x="771" y="981" dy="0.35em">RNPS1</text></g>
<g id="node-KRT18" class="p"><circle cx="680" cy="1030" r="34"/><text x="680" y="1030" dy="0.35em">KRT18</text></g>
<g id="node-TERF2" class="p"><circle cx="873" cy="1016" r="34"/><text x="873" y="1016" dy="0.35em">TERF2</text></g>
<g id="node-HEXIM1" class="g"><circle cx="959" cy="1007" r="34"/><text x="959" y="1007" dy="0.35em">HEXIM1</text></g>
<g id="node-PRKCA" class="g"><circle cx="1160" cy="1018" r="34"/><text x="1160" y="1018" dy="0.35em">PRKCA</text></g>
<g id="node-TFIP11" class="g"><circle cx="1261" cy="1015" r="34"/><text x="1261" y="1015" dy="0.35em">TFIP11</text></g>
<g id="node-AASDHPPT" class="p"><circle cx="1455" cy="1015" r="34"/><text x="1455" y="1015" dy="0.35em">AASDHPPT</text></g>
<g id="node-KSR2" class="g"><circle cx="1061" cy="1045" r="34"/><text x="1061" y="1045" dy="0.35em">KSR2</text></g>
<g id="node-KCTD8" class="g"><circle cx="902" cy="1134" r="34"/><text x="902" y="1134" dy="0.35em">KCTD8</text></g>
<g id="node-FOXP2" class="g"><circle cx="1136" cy="1118" r="34"/><text x="1136" y="1118" dy="0.35em">FOXP2</text></g>
<g id="node-PAXIP1" class="p"><circle cx="1223" cy="1120" r="34"/><text x="1223" y="1120" dy="0.35em">PAXIP1</text></g>
<g id="node-SCRIB" class="g"><circle cx="1327" cy="1139" r="34"/><text x="1327" y="1139" dy="0.35em">SCRIB</text></g>
<g id="node-PKP4" class="g"><circle cx="1398" cy="1109" r="34"/><text x="1398" y="1109" dy="0.35em">PKP4</text></g>
<g id="node-HSP90AA1" class="w"><circle cx="1031" cy="1153" r="34"/><text x="1031" y="1153" dy="0.35em">HSP90AA1</text></g>
<g id="node-SYNE1" class="g"><circle cx="785" cy="1176" r="34"/><text x="785" y="1176" dy="0.35em">SYNE1</text></g>
<g id="node-PASK" class="p"><circle cx="613" cy="1202" r="34"/><text x="613" y="1202" dy="0.35em">PASK</text></g>
<g id="node-ANAPC2" class="p"><circle cx="1224" cy="1202" r="34"/><text x="1224" y="1202" dy="0.35em">ANAPC2</text></g>
<g id="node-GTF3C2" class="p"><circle cx="921" cy="1260" r="34"/><text x="921" y="1260" dy="0.35em">GTF3C2</text></g>
<g id="node-CDK9" class="w"><circle cx="1013" cy="1276" r="34"/><text x="1013" y="1276" dy="0.35em">CDK9</text></g>
<g id="node-TTC9C" class="p"><circle cx="1108" cy="1249" r="34"/><text x="1108" y="1249" dy="0.35em">TTC9C</text></g>
<g id="node-PLOD2" class="g"><circle cx="775" cy="1306" r="34"/><text x="775" y="1306" dy="0.35em">PLOD2</text></g>
<g id="node-TERF2IP" class="w"><circle cx="832" cy="1344" r="34"/><text x="832" y="1344" dy="0.35em">TERF2IP</text></g>
<g id="node-FABP2" class="g"><circle cx="968" cy="1354" r="34"/><text x="968" y="1354" dy="0.35em">FABP2</text></g>
<g id="node-ANAPC4" class="w"><circle cx="1130" cy="1341" r="34"/><text x="1130" y="1341" dy="0.35em">ANAPC4</text></g>
<g id="node-CDC27" class="w"><circle cx="1360" cy="1358" r="34"/><text x="1360" y="1358" dy="0.35em">CDC27</text></g>
<g id="node-ANAPC10" class="p"><circle cx="1258" cy="1393" r="34"/><text x="1258" y="1393" dy="0.35em">ANAPC10</text></g>
</g>
</g>
</svg>
